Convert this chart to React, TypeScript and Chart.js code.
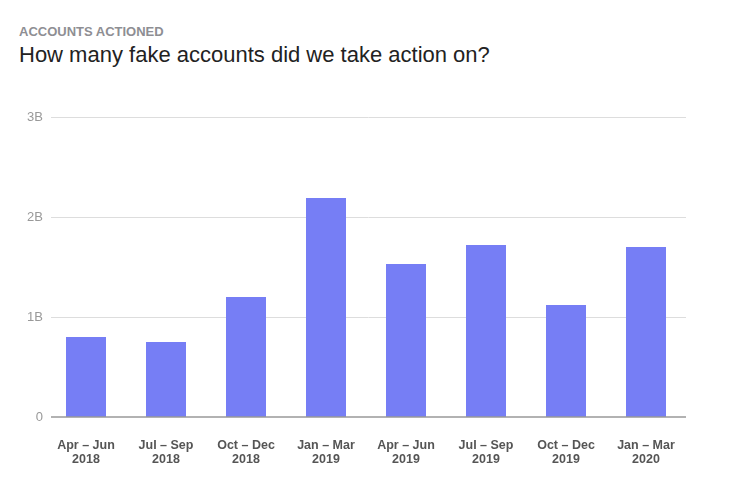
import React, { useEffect, useRef } from 'react';
import { Chart, registerables } from 'chart.js';

Chart.register(...registerables);

// quarters shown on the x axis (two lines each)
const periods = ['Apr – Jun', 'Jul – Sep', 'Oct – Dec', 'Jan – Mar', 'Apr – Jun', 'Jul – Sep', 'Oct – Dec', 'Jan – Mar'];
const years = ['2018', '2018', '2018', '2019', '2019', '2019', '2019', '2020'];
// fake accounts actioned, in billions
const accounts = [0.8, 0.75, 1.2, 2.19, 1.53, 1.72, 1.12, 1.7];
const yTicks = [0, 1, 2, 3];
const yTickLabels = ['0', '1B', '2B', '3B'];

const FONT = '"Liberation Sans", Arial, sans-serif';

// horizontal grid lines, drawn a little inset from the left like the original
const gridLines = {
  id: 'gridLines',
  beforeDatasetsDraw(chart: any) {
    const { ctx, chartArea, scales } = chart;
    ctx.save();
    ctx.strokeStyle = '#ddd';
    ctx.lineWidth = 1;
    yTicks.forEach((v) => {
      if (v === 0) return;
      const y = Math.round(scales.y.getPixelForValue(v)) + 0.5;
      ctx.beginPath();
      ctx.moveTo(chartArea.left + 5, y);
      ctx.lineTo(chartArea.right, y);
      ctx.stroke();
    });
    ctx.restore();
  },
  afterDatasetsDraw(chart: any) {
    const { ctx, chartArea, scales } = chart;
    const y = scales.y.getPixelForValue(0);
    ctx.save();
    ctx.strokeStyle = '#999';
    ctx.lineWidth = 1.5;
    ctx.beginPath();
    ctx.moveTo(chartArea.left + 5, y);
    ctx.lineTo(chartArea.right, y);
    ctx.stroke();
    ctx.restore();
  },
};

const App = () => {
  const chartRef = useRef<HTMLCanvasElement | null>(null);
  const chartInstance = useRef<Chart | null>(null);

  useEffect(() => {
    if (!chartRef.current) return;
    if (chartInstance.current) chartInstance.current.destroy();

    chartInstance.current = new Chart(chartRef.current, {
      type: 'bar',
      data: {
        labels: periods.map((p, i) => [p, years[i]]),
        datasets: [
          {
            data: accounts,
            backgroundColor: '#767ef5',
            borderWidth: 0,
            barPercentage: 0.5,
            categoryPercentage: 1,
          },
        ],
      },
      options: {
        responsive: false,
        animation: false,
        layout: { padding: { top: 117, right: 51, left: 0, bottom: 0 } },
        plugins: {
          legend: { display: false },
          tooltip: { enabled: false },
        },
        scales: {
          x: {
            grid: { display: false },
            border: { display: false },
            ticks: {
              color: '#555',
              padding: 13,
              maxRotation: 0,
              autoSkip: false,
              font: { family: FONT, size: 12.5, weight: 'bold', lineHeight: 1.15 },
            },
            afterFit: (scale: any) => {
              scale.height = 69;
            },
          },
          y: {
            min: 0,
            max: 3,
            afterBuildTicks: (scale: any) => {
              scale.ticks = yTicks.map((v) => ({ value: v }));
            },
            grid: { display: false, drawTicks: false },
            border: { display: false },
            ticks: {
              color: '#999',
              padding: 3,
              font: { family: FONT, size: 13 },
              callback: (v: any) => yTickLabels[yTicks.indexOf(Number(v))] ?? '',
            },
            afterFit: (scale: any) => {
              scale.width = 46;
            },
          },
        },
      },
      plugins: [gridLines],
    });

    return () => {
      if (chartInstance.current) {
        chartInstance.current.destroy();
        chartInstance.current = null;
      }
    };
  }, []);

  return (
    <div style={{ position: 'fixed', left: 0, top: 0, width: 737, height: 486, background: '#fff', fontFamily: FONT }}>
      <div style={{ position: 'absolute', left: 19, top: 24, fontSize: 13, fontWeight: 'bold', color: '#8e8e93' }}>
        ACCOUNTS ACTIONED
      </div>
      <div style={{ position: 'absolute', left: 19, top: 42, fontSize: 22, color: '#222' }}>
        How many fake accounts did we take action on?
      </div>
      <canvas ref={chartRef} width={737} height={486} style={{ position: 'absolute', left: 0, top: 0 }} />
    </div>
  );
};

export default App;
